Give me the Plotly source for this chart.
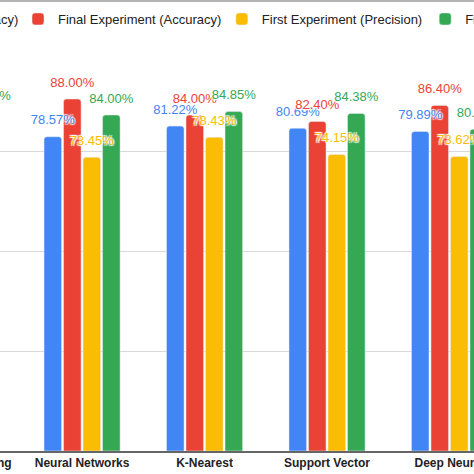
import plotly.graph_objects as go

# Model names on the x axis (first one is mostly cropped in the reference)
categories = ["Gradient Boosting", "Neural Networks", "K-Nearest<br>Neighbours",
              "Support Vector<br>Machine", "Deep Neural<br>Networks"]

# Scores in percent
first_accuracy = [80.12, 78.57, 81.22, 80.69, 79.89]
final_accuracy = [85.20, 88.00, 84.00, 82.40, 86.40]
first_precision = [76.40, 73.45, 78.43, 74.15, 73.62]
final_precision = [84.62, 84.00, 84.85, 84.38, 80.46]

series_names = ["First Experiment (Accuracy)", "Final Experiment (Accuracy)",
                "First Experiment (Precision)", "Final Experiment (Precision)"]
series_values = [first_accuracy, final_accuracy, first_precision, final_precision]
colors = ["#4285F4", "#EA4335", "#FBBC04", "#34A853"]
legend_ids = ["legend", "legend2", "legend3", "legend4"]

FONT = "Arial, Liberation Sans"
halo = "1px 1px 1px #fff, -1px -1px 1px #fff, 1px -1px 1px #fff, -1px 1px 1px #fff"
GAP = 0.363
X_RANGE = [0.33, 4.2]
MARGIN = dict(l=0, r=0, t=51, b=23)
W = H = 474

fig = go.Figure()

for i, (name, vals, col, lg) in enumerate(zip(series_names, series_values, colors, legend_ids)):
    fig.add_trace(go.Bar(
        x=categories,
        y=vals,
        name=name,
        legend=lg,
        offsetgroup=str(i),
        marker=dict(color=col, cornerradius=3),
        hoverinfo="skip",
    ))

# value labels in their own layer so they sit on top of every bar
for i, (vals, col) in enumerate(zip(series_values, colors)):
    fig.add_trace(go.Scatter(
        x=categories,
        y=vals,
        mode="markers+text",
        offsetgroup=str(i),
        text=[f"{v:.2f}%" for v in vals],
        textposition="top center",
        textfont=dict(family=FONT, size=13, color=col, shadow=halo),
        marker=dict(size=13, color="rgba(0,0,0,0)"),
        cliponaxis=True,
        showlegend=False,
        hoverinfo="skip",
    ))

# one legend per series so they sit in a single row that runs off both edges
legend_x = [-0.384, 0.038, 0.468, 0.897]
legend_cfg = {}
for lg, lx in zip(legend_ids, legend_x):
    legend_cfg[lg] = dict(
        orientation="h", x=lx, y=1.08, xanchor="left", yanchor="middle",
        font=dict(family=FONT, size=13, color="#222222"),
        bgcolor="rgba(0,0,0,0)",
    )

# the first category sits left of the visible range, so plotly drops its tick;
# put its label back where the tick would be (only its tail shows)
first_pos = (0 - X_RANGE[0]) / (X_RANGE[1] - X_RANGE[0])
plot_h = H - MARGIN["t"] - MARGIN["b"]
frame_y = 1 + (MARGIN["t"] - 1) / plot_h

fig.update_layout(
    width=W,
    height=H,
    margin=dict(**MARGIN, autoexpand=False),
    paper_bgcolor="white",
    plot_bgcolor="white",
    barmode="group",
    bargap=GAP,
    bargroupgap=0.1,
    scattermode="group",
    scattergap=GAP,
    xaxis=dict(
        range=X_RANGE,
        showline=True,
        linecolor="#666666",
        linewidth=1.5,
        ticks="",
        tickfont=dict(family=FONT, size=12, color="#222222", weight="bold"),
        showgrid=False,
    ),
    yaxis=dict(
        range=[0, 100],
        dtick=25,
        showticklabels=False,
        gridcolor="#d9d9d9",
        gridwidth=1,
        zeroline=False,
    ),
    annotations=[dict(
        text=categories[0], xref="paper", yref="paper", x=first_pos, y=0,
        xanchor="center", yanchor="top", yshift=-3, showarrow=False,
        font=dict(family=FONT, size=12, color="#222222", weight="bold"),
    )],
    # thin grey frame edge along the top of the image
    shapes=[dict(
        type="line", xref="paper", yref="paper", x0=0, x1=1,
        y0=frame_y, y1=frame_y,
        line=dict(color="#b4b4b4", width=2),
    )],
    **legend_cfg,
)

# page has a default 8px body margin; drop it so the figure fills the window
fig.write_html("out.html", config={"displayModeBar": False},
               post_script="document.body.style.margin='0';")
